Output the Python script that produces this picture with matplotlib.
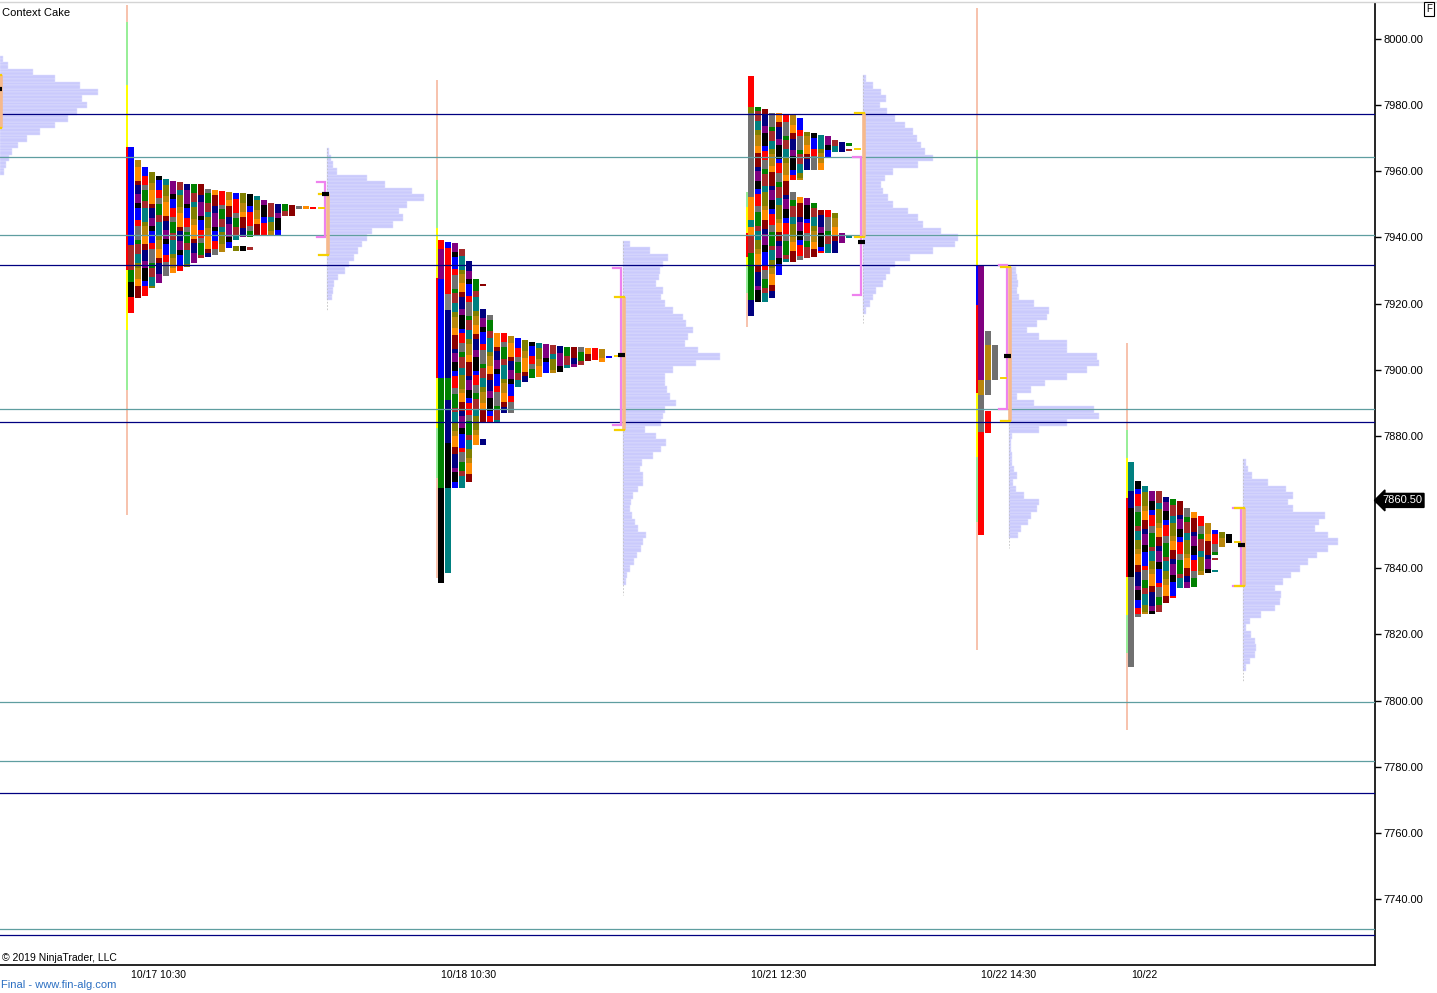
import matplotlib
matplotlib.use("Agg")
import matplotlib.pyplot as plt
import matplotlib.transforms as mtransforms
from matplotlib.lines import Line2D

# ---------------- data ----------------
chart_title = "Context Cake"
copyright_text = "© 2019 NinjaTrader, LLC"
footer_text = "Final - www.fin-alg.com"
price_ticks = [7740, 7760, 7780, 7800, 7820, 7840, 7860, 7880, 7900, 7920, 7940, 7960, 7980, 8000]
date_labels = ["10/17 10:30", "10/18 10:30", "10/21 12:30", "10/22 14:30", "10/22"]
last_price = 7860.50

navy_levels = [7977.3, 7931.7, 7884.2, 7772.0, 7729.1]
teal_levels = [7964.3, 7940.7, 7888.1, 7799.6, 7781.7, 7730.9]

# TPO columns: list of (top, bottom) segments per column
s1_cols = [[(7967.3, 7917.3)], [(7963.4, 7921.8)], [(7961.4, 7922.3)], [(7959.8, 7924.6)],
           [(7958.6, 7926.3)], [(7957.6, 7928.2)], [(7957.2, 7929.2)], [(7956.9, 7930.0)],
           [(7956.3, 7931.2)], [(7956.2, 7932.2)], [(7956.2, 7933.7)], [(7954.6, 7934.2)],
           [(7954.4, 7934.7)], [(7954.1, 7935.7)], [(7953.8, 7936.7)],
           [(7953.5, 7939.2), (7937.4, 7936.0)], [(7953.3, 7940.2), (7937.4, 7936.0)],
           [(7953.0, 7940.2), (7937.2, 7936.2)], [(7952.5, 7940.8)], [(7951.3, 7940.8)],
           [(7950.3, 7940.8)], [(7950.0, 7940.8)], [(7950.0, 7946.5)], [(7949.8, 7946.5)],
           [(7949.5, 7948.5)], [(7949.5, 7948.5)], [(7949.3, 7948.5)]]
s2_cols = [[(7939.2, 7835.6)], [(7938.6, 7838.5)], [(7938.2, 7864.4)], [(7936.5, 7864.4)],
           [(7932.9, 7866.0)], [(7927.3, 7877.3)],
           [(7925.8, 7925.2), (7918.4, 7883.8), (7879.0, 7877.3)],
           [(7916.6, 7883.8)], [(7911.2, 7884.0)], [(7911.0, 7886.8)], [(7910.2, 7886.8)],
           [(7909.5, 7894.9)], [(7909.0, 7896.4)], [(7908.5, 7897.4)], [(7908.2, 7897.9)],
           [(7907.8, 7899.1)], [(7907.5, 7899.1)], [(7907.2, 7899.4)], [(7907.0, 7900.4)],
           [(7907.0, 7900.9)], [(7906.8, 7901.4)], [(7906.5, 7902.5)], [(7906.5, 7902.8)],
           [(7906.2, 7902.2)], [(7904.2, 7903.5)]]
s3_cols = [[(7988.8, 7916.3)], [(7979.4, 7920.6)], [(7978.7, 7920.6)], [(7977.7, 7921.6)],
           [(7977.5, 7928.6)], [(7977.0, 7932.7)],
           [(7977.0, 7957.4), (7953.8, 7932.7)], [(7976.0, 7957.4), (7952.3, 7933.2)],
           [(7972.0, 7960.4), (7951.8, 7933.7)], [(7971.7, 7960.4), (7950.3, 7934.2)],
           [(7971.0, 7960.4), (7948.3, 7935.2)], [(7970.7, 7964.4), (7948.3, 7935.2)],
           [(7969.5, 7965.9), (7947.3, 7935.2)], [(7969.0, 7965.9), (7941.2, 7938.2)],
           [(7968.5, 7967.6), (7966.7, 7966.0), (7940.5, 7939.8)]]
s4_cols = [[(7931.7, 7850.0)], [(7911.7, 7892.4), (7887.5, 7881.0)], [(7907.5, 7896.9)]]
s5_cols = [[(7872.2, 7810.2)], [(7866.5, 7825.2)], [(7864.9, 7826.2)], [(7863.2, 7826.2)],
           [(7863.2, 7826.9)], [(7861.4, 7829.6)], [(7860.8, 7830.9)], [(7860.4, 7834.0)],
           [(7858.1, 7833.9)], [(7857.1, 7834.2)], [(7855.8, 7838.0)], [(7853.6, 7838.5)],
           [(7851.6, 7844.0), (7843.0, 7842.5), (7839.5, 7839.0)],
           [(7850.8, 7846.5)], [(7850.3, 7847.5)]]

# explicitly coloured runs of the first columns (top, bottom, colour)
s1_runs = {0: [(7967.3, 7937.7, "#0000FF"), (7937.7, 7930.2, "#A52A2A"), (7930.2, 7926.5, "#008000"),
               (7926.5, 7922.0, "#000000"), (7922.0, 7917.3, "#FF0000")]}
s2_runs = {0: [(7939.2, 7936.5, "#FF0000"), (7936.5, 7927.3, "#800080"), (7927.3, 7897.4, "#0000FF"),
               (7897.4, 7864.4, "#008000"), (7864.4, 7835.6, "#000000")],
           1: [(7938.6, 7936.9, "#0000FF"), (7936.9, 7923.0, "#FF0000"), (7923.0, 7918.0, "#808080"),
               (7918.0, 7897.4, "#000080"), (7897.4, 7891.0, "#008000"), (7891.0, 7878.0, "#000080"),
               (7878.0, 7864.4, "#000000"), (7864.4, 7838.5, "#008080")]}
s3_runs = {0: [(7988.8, 7979.5, "#FF0000"), (7979.5, 7977.5, "#808000"), (7977.5, 7952.3, "#707070"),
               (7952.3, 7945.3, "#FF8C00"), (7945.3, 7943.3, "#008080"), (7943.3, 7940.7, "#FF8C00"),
               (7940.7, 7935.2, "#A52A2A"), (7935.2, 7921.1, "#008000"), (7921.1, 7916.3, "#000080")]}
s4_runs = {0: [(7931.7, 7896.9, "#800080"), (7896.9, 7892.4, "#B8860B"), (7892.4, 7881.2, "#707070"),
               (7881.2, 7850.0, "#FF0000")],
           1: [(7911.7, 7907.5, "#707070"), (7907.5, 7896.9, "#B8860B"), (7896.9, 7892.4, "#707070"),
               (7887.5, 7881.0, "#FF0000")],
           2: [(7907.5, 7896.9, "#707070")]}
s5_runs = {0: [(7872.2, 7863.2, "#008080"), (7863.2, 7858.1, "#000080"), (7858.1, 7837.4, "#000000"),
               (7837.4, 7810.2, "#707070")]}

# session range lines (top, bottom, colour)
SAL, LG, YE, RD, BL = "#F7C3AE", "#98EE98", "#FFFF00", "#FF0000", "#0000FF"
s1_range = [(8010.3, 8005.1, SAL), (8005.1, 7986.1, LG), (7986.1, 7967.3, YE), (7967.3, 7930.2, RD),
            (7930.2, 7912.0, YE), (7912.0, 7893.9, LG), (7893.9, 7856.1, SAL)]
s2_range = [(7987.6, 7957.4, SAL), (7957.4, 7942.9, LG), (7942.9, 7927.7, YE), (7927.7, 7897.5, RD),
            (7897.5, 7882.4, YE), (7882.4, 7867.4, LG), (7867.4, 7837.1, SAL)]
s3_range = [(7953.8, 7949.3, LG), (7949.3, 7941.3, YE), (7941.3, 7934.2, RD), (7934.2, 7931.2, YE),
            (7931.2, 7923.1, LG), (7923.1, 7913.0, SAL)]
s4_range = [(8009.4, 7966.4, SAL), (7966.4, 7951.3, LG), (7951.3, 7931.7, YE), (7931.7, 7919.6, BL),
            (7919.6, 7893.0, RD), (7893.0, 7873.6, YE), (7873.6, 7853.9, LG), (7853.9, 7815.3, SAL)]
s5_range = [(7908.1, 7881.8, SAL), (7881.8, 7873.3, LG), (7873.3, 7861.2, YE), (7861.2, 7837.3, RD),
            (7837.3, 7825.9, YE), (7825.9, 7814.4, LG), (7814.4, 7791.1, SAL)]

# volume profiles: top price level (step 2 points) and bar lengths
prof0_top, prof0_len = 7994, [3, 8, 33, 55, 80, 98, 82, 87, 77, 68, 55, 40, 27, 18, 12, 9, 6, 4]
prof1_top, prof1_len = 7966, [2, 4, 6, 10, 40, 58, 85, 97, 80, 72, 76, 66, 45, 40, 35, 31, 27, 22,
                              18, 11, 7, 6, 5]
prof2_top, prof2_len = 7938, [7, 27, 45, 40, 37, 36, 33, 40, 38, 42, 50, 60, 63, 70, 65, 62, 75, 97,
                              73, 50, 42, 42, 44, 47, 53, 42, 40, 38, 22, 33, 43, 38, 30, 19, 17, 20,
                              20, 15, 10, 8, 7, 9, 12, 15, 23, 20, 18, 14, 11, 7, 4, 3]
prof3_top, prof3_len = 7988, [3, 10, 18, 23, 17, 24, 32, 42, 50, 54, 58, 62, 70, 55, 30, 22, 18, 20,
                              25, 30, 45, 55, 60, 78, 95, 92, 70, 47, 32, 27, 23, 20, 13, 10, 7, 3]
prof4_top, prof4_len = 7930, [7, 8, 9, 8, 10, 25, 40, 38, 28, 18, 30, 58, 58, 88, 90, 78, 58, 36, 22,
                              8, 25, 85, 90, 58, 30, 3, 2, 2, 3, 3, 5, 8, 4, 7, 15, 30, 28, 22, 19, 12, 9]
prof5_top, prof5_len = 7872, [3, 5, 9, 25, 43, 50, 45, 50, 82, 76, 72, 85, 95, 85, 74, 65, 57, 48, 40,
                              32, 38, 37, 32, 18, 7, 3, 8, 12, 13, 12, 7, 3]

# value-area brackets per profile
va_top = [7989.1, 7953.1, 7922.1, 7977.7, 7931.2, 7858.1]
va_bot = [7973.1, 7934.7, 7881.8, 7940.2, 7884.6, 7834.7]
va_mid = [None, 7949.0, 7904.2, 7966.7, 7897.4, 7847.8]
tpo_va_top = [None, 7956.8, 7930.7, 7964.4, 7931.7, 7858.1]
tpo_va_bot = [None, 7940.2, 7883.3, 7922.6, 7888.0, 7834.7]
poc = [7984.9, 7953.0, 7904.4, 7938.7, 7904.1, 7846.9]

# ---------------- layout / style ----------------
tpo_x = [127, 437, 747, 977, 1127]
prof_x = [0, 327, 623, 863, 1009, 1243]
date_x = [131, 441, 751, 981, 1131]
PITCH = 7
CELL_HEIGHTS = [2.6, 1.6, 3.4, 2.0, 4.2, 1.3, 2.9]
palette = ["#FF0000", "#000080", "#808000", "#707070", "#800080", "#B8860B", "#008000",
           "#000000", "#FF8C00", "#A52A2A", "#0000FF", "#8B0000", "#008080"]
FONT = ["Liberation Sans", "DejaVu Sans"]
NARROW = ["Liberation Sans Narrow", "Liberation Sans", "DejaVu Sans"]
PROF_FC = "#CACAFC"
PROF_EC = "#E2E2FF"

fig = plt.figure(figsize=(14.37, 9.93), dpi=100)
ax = fig.add_axes([0, 28 / 993, 1375 / 1437, 962 / 993])
ax.set_xlim(0, 1375)
ax.set_ylim(7720.04, 8010.88)

# horizontal reference lines
for lv in teal_levels:
    ax.axhline(lv, color="#5F9EA0", lw=0.9, zorder=6)
for lv in navy_levels:
    ax.axhline(lv, color="#000080", lw=0.9, zorder=6)

sessions = [(s1_cols, s1_runs, s1_range), (s2_cols, s2_runs, s2_range), (s3_cols, s3_runs, s3_range),
            (s4_cols, s4_runs, s4_range), (s5_cols, s5_runs, s5_range)]

for si, (cols, runs, rng) in enumerate(sessions):
    a = tpo_x[si]
    xs, bots, hs, cs = [], [], [], []
    for c, segs in enumerate(cols):
        x0 = a + 1 + PITCH * c
        if c in runs:
            for top, bot, col in runs[c]:
                xs.append(x0); bots.append(bot); hs.append(top - bot); cs.append(col)
            continue
        r = 0
        for top, bot in segs:
            y = top
            while y > bot + 1e-6:
                h = min(CELL_HEIGHTS[(c * 3 + r + si) % len(CELL_HEIGHTS)], y - bot)
                if y - bot - h < 0.6:
                    h = y - bot
                xs.append(x0); bots.append(y - h); hs.append(h)
                cs.append(palette[(c * 5 + r * 3 + si * 7) % len(palette)])
                y -= h
                r += 1
    ax.bar(xs, hs, width=6, bottom=bots, color=cs, align="edge", linewidth=0, zorder=3)
    # range line
    for top, bot, col in rng:
        ax.bar([a - 1], [top - bot], width=2, bottom=[bot], color=col, align="edge",
               linewidth=0, zorder=4)

profiles = [(prof0_top, prof0_len), (prof1_top, prof1_len), (prof2_top, prof2_len),
            (prof3_top, prof3_len), (prof4_top, prof4_len), (prof5_top, prof5_len)]
for pi, (ptop, plen) in enumerate(profiles):
    b = prof_x[pi]
    prices = [ptop - 2 * k for k in range(len(plen))]
    # each 2-point level drawn as two 1-point rows (row striping like the original)
    for off in (0.5, -0.5):
        ax.barh([p + off for p in prices], plen, height=1, left=b, color=PROF_FC,
                edgecolor=PROF_EC, linewidth=0.35, zorder=2)
    if pi > 0:
        ax.plot([b, b], [prices[0] + 1, prices[-1] - 4], color="#C0C0C0", lw=0.6,
                ls=(0, (2, 2)), zorder=2)
    # TPO value area (pink bracket)
    if tpo_va_top[pi] is not None:
        t, bt = tpo_va_top[pi], tpo_va_bot[pi]
        ax.plot([b - 10, b - 1.5, b - 1.5, b - 10], [t, t, bt, bt], color="#EE82EE", lw=1.6,
                zorder=7, solid_joinstyle="miter")
    # volume value area (yellow ticks + light orange bar)
    t, bt = va_top[pi], va_bot[pi]
    ax.plot([b + 1, b + 1], [t, bt], color="#F6B98C", lw=2.6, zorder=7, solid_capstyle="butt")
    ax.plot([b - 8, b + 1], [t, t], color="#F5D000", lw=1.6, zorder=8)
    ax.plot([b - 8, b + 1], [bt, bt], color="#F5D000", lw=1.6, zorder=8)
    if va_mid[pi] is not None:
        ax.plot([b - 8, b - 3], [va_mid[pi], va_mid[pi]], color="#F5D000", lw=1.4, zorder=8)
    ax.plot([b - 5, b + 2.5], [poc[pi], poc[pi]], color="black", lw=3, zorder=9,
            solid_capstyle="butt")

# axes styling
ax.yaxis.tick_right()
ax.set_yticks(price_ticks)
ax.set_yticklabels([f"{p:.2f}" for p in price_ticks], fontsize=8, family=FONT)
ax.tick_params(axis="y", direction="out", length=4, width=1, pad=2, colors="black")
ax.set_xticks([])
for s in ["left", "top"]:
    ax.spines[s].set_visible(False)
ax.spines["right"].set_linewidth(1.2)
ax.spines["bottom"].set_linewidth(1.2)

trans = mtransforms.blended_transform_factory(ax.transData, ax.transAxes)
for xpos, lab in zip(date_x, date_labels):
    ax.text(xpos, -10 / 962, lab, transform=trans, ha="left", va="center", fontsize=7.5,
            family=NARROW, clip_on=False)

ax.text(1382, last_price, "7860.50", color="white", fontsize=8, family=FONT, va="center",
        ha="left", clip_on=False, zorder=10,
        bbox=dict(boxstyle="larrow,pad=0.18", fc="black", ec="black"))

fig.text(2 / 1437, 1 - 13 / 993, chart_title, fontsize=8, family=FONT, va="center", ha="left")
fig.text(2 / 1437, 1 - 958 / 993, copyright_text, fontsize=7.5, family=NARROW, va="center", ha="left")
fig.text(1 / 1437, 1 - 985 / 993, footer_text, fontsize=8, family=NARROW, va="center", ha="left",
         color="#2B6FC2")
fig.text(1429 / 1437, 1 - 9 / 993, "F", fontsize=7, family=FONT, ha="center", va="center",
         bbox=dict(boxstyle="square,pad=0.2", fc="white", ec="black", lw=0.8))
fig.add_artist(Line2D([0, 1], [1 - 2 / 993, 1 - 2 / 993], color="#D4D4D4", lw=1))

fig.savefig("out.png", dpi=100)
